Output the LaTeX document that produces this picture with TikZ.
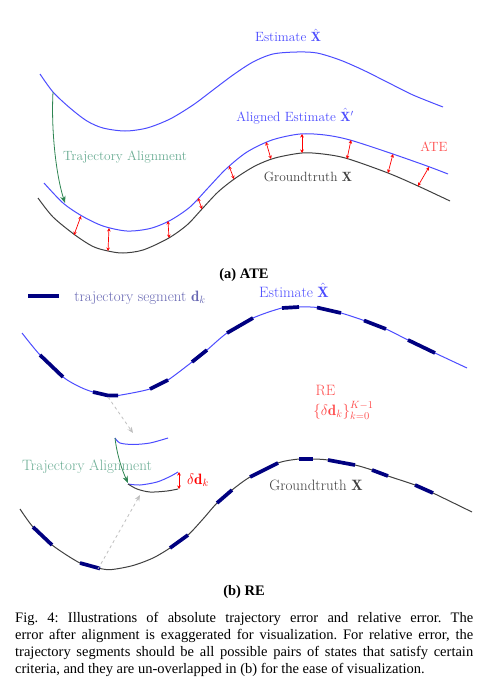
\RequirePackage{fix-cm}
\documentclass[tikz,border=0pt]{standalone}
\usepackage{amsmath,amssymb}
\usepackage{fontspec}
\newfontfamily\capfont{Liberation Serif}
\usepackage{tikz}
\usetikzlibrary{arrows.meta}

\definecolor{navy}{rgb}{0,0,0.5}
\definecolor{alignarrow}{rgb}{0.18,0.52,0.32}
\definecolor{aligntext}{rgb}{0.42,0.68,0.58}

\tikzset{
  estcurve/.style={line width=1pt, blue!70},
  gtcurve/.style={line width=1pt, black!75},
  segment/.style={line width=3.7pt, navy},
  err/.style={red, line width=0.7pt, {Stealth[length=3.5pt,width=3.5pt]}-{Stealth[length=3.5pt,width=3.5pt]}},
  alignarr/.style={alignarrow, line width=0.8pt, -{Stealth[length=7pt,width=5.5pt]}},
  shiftarr/.style={gray!50, dashed, line width=0.8pt, -{Stealth[length=6pt,width=5pt]}},
  lblA/.style={font=\fontsize{13.4}{16}\selectfont, inner sep=0pt, anchor=base},
  lblB/.style={font=\fontsize{15}{18}\selectfont, inner sep=0pt, anchor=base},
  subcap/.style={font=\capfont\bfseries\fontsize{14.5}{16.5}\selectfont, inner sep=0pt, anchor=base}
}

\begin{document}
\begin{tikzpicture}[x=1pt, y=-1pt]
  \useasboundingbox (0,0) rectangle (492,693);

  % (a) ATE
  \draw[estcurve] plot[smooth] coordinates {(40,74) (53,92) (70,108) (87,121) (103,128) (125,131) (147,128) (170,119) (193,105) (213,90) (233,75) (253,62) (273,54) (297,52) (317,53) (340,60) (363,70) (387,82) (413,95) (443,107)};
  \draw[estcurve] plot[smooth] coordinates {(44,183) (63,203) (82,216) (103,226) (127,231) (150,228.5) (170,220.5) (190,207) (208,188) (226,169) (247,152) (272,140) (300,134) (325,135) (350,140) (390,153) (427,166) (448,174)};
  \draw[gtcurve] plot[smooth] coordinates {(38,198) (53,217) (75,235) (93,246.5) (108,251) (123,253) (143,250) (168,238.5) (187,225) (202,209) (218,192) (235,178.5) (255,166) (275,158) (302,153) (323,154) (347,158.5) (388,173) (418,186) (450,201)};

  \foreach \i/\ax/\ay/\gx/\gy in {1/81/216/74/235, 2/109/228/108/251, 3/168/221/169/238, 4/198/198/202/209, 5/229/166/234/179, 6/266/142/271/159, 7/302/134/302/153, 8/351/140/347/159, 9/393/154/388/173, 10/429/167/418/186} {
    \coordinate (a\i) at (\ax,\ay);
    \coordinate (g\i) at (\gx,\gy);
    \draw[err] (a\i) -- (g\i);
  }

  \coordinate (alA) at (53,92);
  \coordinate (alB) at (65,203);
  \draw[alignarr] (alA) .. controls (51,130) and (56,175) .. (alB);

  \node[lblA, blue!70] (estA) at (288,42) {Estimate $\hat{\mathbf{X}}$};
  \node[lblA, blue!70] (alignedA) at (295,121) {Aligned Estimate $\hat{\mathbf{X}}'$};
  \node[lblA, red!70] (ate) at (434,151) {ATE};
  \node[lblA, black!75] (gtA) at (308,181) {Groundtruth $\mathbf{X}$};
  \node[lblA, aligntext] (trajA) at (125,160) {Trajectory Alignment};
  \node[subcap] (capA) at (244,278) {(a) ATE};

  % (b) RE
  \coordinate (legA) at (28,296);
  \coordinate (legB) at (59,296);
  \draw[segment] (legA) -- (legB);
  \node[lblB, navy!60] (legtxt) at (140,301) {trajectory segment $\mathbf{d}_k$};
  \node[lblB, blue!70] (estB) at (294,297.5) {Estimate $\hat{\mathbf{X}}$};

  \draw[estcurve] plot[smooth] coordinates {(22,333) (40,355) (63,377) (80,387) (93,392) (108,395.5) (118,395.5) (150,389) (168,380) (192,362) (207,350) (227,333) (253,318) (282,308) (299,307) (317,307.5) (341,313) (364,320.5) (386,329) (408,340) (435,353) (467,368)};
  \draw[gtcurve] plot[smooth] coordinates {(20,509) (33,527) (52,545) (80,563) (100,568.5) (112,569.5) (133,565.5) (153,558) (170,548) (188,535) (203,519) (217,503) (232,490) (250,477) (278,463) (299,459) (313,459) (328,460) (355,465) (372,470) (388,476) (415,485) (433,493) (472,512)};

  \foreach \xa/\ya/\xb/\yb in {40/355/63/377, 150/389/168/380, 192/362/207/350, 227/333/253/318, 282/308/299/307, 317/307.5/341/313, 364/320.5/386/329, 408/340/435/353, 33/527/52/545, 80/563/100/568.5, 170/548/188/535, 217/503/232/490, 250/477/278/463, 299/459/313/459, 328/460/355/465, 372/470/388/476, 415/485/433/493}
    \draw[segment] (\xa,\ya) -- (\xb,\yb);
  \draw[segment] (93,392) -- (108,395.5) -- (118,395.5);

  \node[lblB, red!70] (re) at (325.5,395) {RE};
  \node[lblB, red!70] (reset) at (343.5,415) {$\{\delta\mathbf{d}_k\}_{k=0}^{K-1}$};
  \node[lblB, black!75] (gtB) at (316,490) {Groundtruth $\mathbf{X}$};

  % aligned segment pair
  \draw[estcurve] plot[smooth] coordinates {(115,438) (120,443) (133,444.5) (150,443) (168,438)};
  \draw[estcurve] plot[smooth] coordinates {(128,484) (140,485) (157,482) (170,476.5) (178,472)};
  \draw[gtcurve] plot[smooth] coordinates {(128,484) (137,489) (150,492) (167,491) (178,489)};

  \coordinate (dA) at (179,472);
  \coordinate (dB) at (179,489);
  \draw[err] (dA) -- (dB);
  \node[lblB, red] (dd) at (198,484) {$\delta\mathbf{d}_k$};

  \coordinate (alC) at (115,438);
  \coordinate (alD) at (128,483);
  \draw[alignarr] (alC) .. controls (117,455) and (122,470) .. (alD);
  \node[lblB, aligntext] (trajB) at (87,470) {Trajectory Alignment};

  \coordinate (sh1) at (108,397);
  \coordinate (sh2) at (133,433);
  \coordinate (sh3) at (98,569);
  \coordinate (sh4) at (140,495);
  \draw[shiftarr] (sh1) -- (sh2);
  \draw[shiftarr] (sh3) -- (sh4);

  \node[subcap] (capB) at (244,595) {(b) RE};

  % caption
  \node[anchor=north west, inner sep=0pt, text width=458pt, align=justify,
        font=\capfont\fontsize{14.5}{16.7}\selectfont] (caption) at (15,612.5)
    {\frenchspacing\hyphenpenalty=10000 \exhyphenpenalty=10000
     Fig. 4: Illustrations of absolute trajectory error and relative error. The\linebreak
     error after alignment is exaggerated for visualization. For relative error, the\linebreak
     trajectory segments should be all possible pairs of states that satisfy certain\linebreak
     criteria, and they are un-overlapped in (b) for the ease of visualization.};
\end{tikzpicture}
\end{document}
